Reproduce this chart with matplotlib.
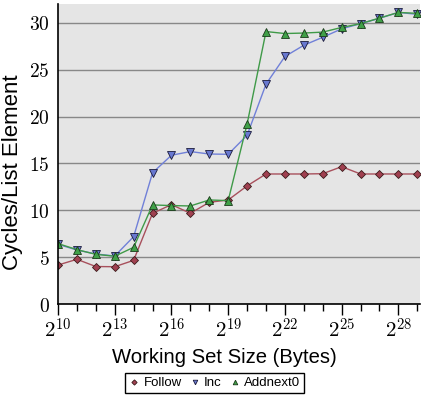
import math
import matplotlib
matplotlib.use("Agg")
import matplotlib.pyplot as plt
from matplotlib.ticker import FixedLocator, FuncFormatter

# working set sizes as powers of two
exponents = list(range(10, 30))
follow = [4.16, 4.77, 4.0, 3.98, 4.66, 9.68, 10.6, 9.68, 10.85, 11.1,
          12.6, 13.87, 13.87, 13.87, 13.9, 14.65, 13.87, 13.87, 13.87, 13.87]
inc = [6.37, 5.76, 5.34, 5.12, 7.19, 14.0, 15.87, 16.26, 16.0, 15.97,
       18.0, 23.45, 26.4, 27.6, 28.45, 29.35, 29.9, 30.47, 31.1, 30.9]
addnext0 = [6.45, 5.8, 5.3, 5.1, 6.05, 10.57, 10.5, 10.46, 11.1, 11.03,
            19.2, 29.06, 28.85, 28.9, 29.0, 29.5, 29.9, 30.5, 31.1, 31.0]
sizes = [2 ** e for e in exponents]

plt.rcParams["mathtext.fontset"] = "cm"

fig = plt.figure(figsize=(4.25, 3.99), dpi=100)
ax = fig.add_axes([0.1365, 0.238, 0.852, 0.752])
ax.set_facecolor("#e5e5e5")

ax.plot(sizes, follow, color="#a8505c", lw=1.0, marker="D", ms=4.5,
        mfc="#a04050", mec="#3a1a1a", mew=0.6, label="Follow")
ax.plot(sizes, inc, color="#7080d8", lw=1.0, marker="v", ms=5.5,
        mfc="#6878d0", mec="#1a1a3a", mew=0.6, label="Inc")
ax.plot(sizes, addnext0, color="#3f9a48", lw=1.0, marker="^", ms=5.5,
        mfc="#40a048", mec="#1a3a1a", mew=0.6, label="Addnext0")

ax.set_xscale("log", base=2)
ax.set_xlim(2 ** 10, 2 ** 29.15)
ax.set_ylim(0, 32)

ax.xaxis.set_major_locator(FixedLocator([2 ** e for e in range(10, 30, 3)]))
ax.xaxis.set_minor_locator(FixedLocator([2 ** e for e in range(10, 30)]))
ax.xaxis.set_major_formatter(FuncFormatter(
    lambda v, p: r"$2^{%d}$" % round(math.log2(v))))
ax.xaxis.set_minor_formatter(FuncFormatter(lambda v, p: ""))
ax.set_yticks(range(0, 31, 5))
ax.set_yticklabels([r"$%d$" % v for v in range(0, 31, 5)])

ax.tick_params(axis="x", which="major", length=8, width=1, labelsize=15, pad=2)
ax.tick_params(axis="x", which="minor", length=5, width=1)
ax.tick_params(axis="y", length=0, labelsize=14, pad=6)

ax.grid(axis="y", color="#888888", lw=1.0)
ax.set_axisbelow(True)
for s in ["top", "right"]:
    ax.spines[s].set_visible(False)
ax.spines["left"].set_linewidth(1.2)
ax.spines["bottom"].set_linewidth(1.2)

ax.set_xlabel("Working Set Size (Bytes)", family="Liberation Sans", fontsize=14.6)
ax.set_ylabel("Cycles/List Element", family="Liberation Sans", fontsize=16)
ax.xaxis.set_label_coords(0.459, -0.145)
ax.yaxis.set_label_coords(-0.098, 0.44)

leg = fig.legend(loc="center", bbox_to_anchor=(0.505, 0.04), ncol=3,
                 prop={"family": "Liberation Sans", "size": 9.5},
                 markerscale=0.6, handlelength=0.8, handletextpad=0.3,
                 columnspacing=0.6, borderpad=0.3, fancybox=False, framealpha=1)
leg.get_frame().set_edgecolor("black")
leg.get_frame().set_linewidth(1.0)
for h in leg.get_lines():
    h.set_linestyle("none")

fig.savefig("out.png", dpi=100)
